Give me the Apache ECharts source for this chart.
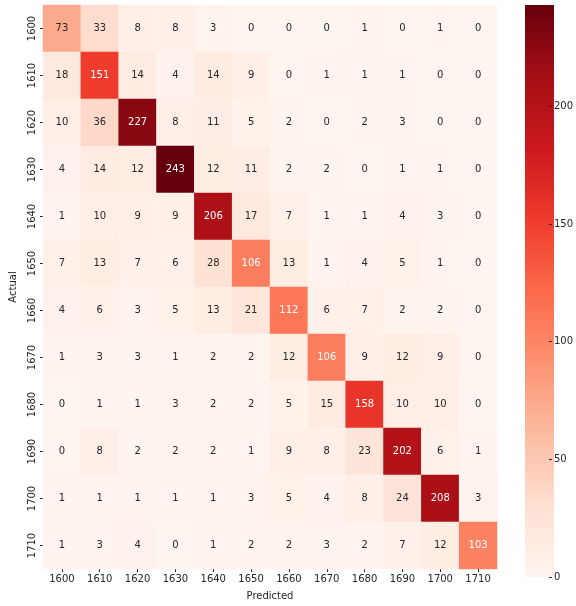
<!DOCTYPE html>
<html><head><meta charset="utf-8">
<script src="https://cdn.jsdelivr.net/npm/echarts@6/dist/echarts.min.js"></script>
<style>html,body{margin:0;padding:0;background:#fff}#c{width:576px;height:606px}</style>
</head><body><div id="c"></div>
<script>
const categories = ['1600','1610','1620','1630','1640','1650','1660','1670','1680','1690','1700','1710'];
const row1600 = [73,33,8,8,3,0,0,0,1,0,1,0];
const row1610 = [18,151,14,4,14,9,0,1,1,1,0,0];
const row1620 = [10,36,227,8,11,5,2,0,2,3,0,0];
const row1630 = [4,14,12,243,12,11,2,2,0,1,1,0];
const row1640 = [1,10,9,9,206,17,7,1,1,4,3,0];
const row1650 = [7,13,7,6,28,106,13,1,4,5,1,0];
const row1660 = [4,6,3,5,13,21,112,6,7,2,2,0];
const row1670 = [1,3,3,1,2,2,12,106,9,12,9,0];
const row1680 = [0,1,1,3,2,2,5,15,158,10,10,0];
const row1690 = [0,8,2,2,2,1,9,8,23,202,6,1];
const row1700 = [1,1,1,1,1,3,5,4,8,24,208,3];
const row1710 = [1,3,4,0,1,2,2,3,2,7,12,103];
const rows = [row1600,row1610,row1620,row1630,row1640,row1650,row1660,row1670,row1680,row1690,row1700,row1710];
const colorbarTicks = [0,50,100,150,200];
const vmin = 0, vmax = 243;
const reds = ['#fff5f0','#fee0d2','#fcbba1','#fc9272','#fb6a4a','#ef3b2c','#cb181d','#a50f15','#67000d'];

const data = [];
rows.forEach((r, yi) => r.forEach((v, xi) => {
  data.push({value:[xi, yi, v], label:{color: v > 90 ? '#ffffff' : '#262626'}});
}));

const font = 'DejaVu Sans';
const chart = echarts.init(document.getElementById('c'), null, {renderer:'canvas'});
chart.setOption({
  animation:false,
  textStyle:{fontFamily:font},
  grid:[
    {left:36, top:5, width:461, height:572},
    {left:525, top:5, width:29, height:572}
  ],
  xAxis:[
    {type:'category', gridIndex:0, data:categories, name:'Predicted', nameLocation:'middle', nameGap:22,
     nameTextStyle:{color:'#262626', fontSize:10, fontFamily:font},
     axisLine:{show:false}, axisTick:{show:true, alignWithLabel:true, length:3, lineStyle:{color:'#262626'}},
     axisLabel:{color:'#262626', fontSize:10, fontFamily:font, margin:5}, splitLine:{show:false}},
    {type:'value', gridIndex:1, show:false, min:0, max:1}
  ],
  yAxis:[
    {type:'category', gridIndex:0, data:categories, inverse:true, name:'Actual', nameLocation:'middle', nameGap:25,
     nameTextStyle:{color:'#262626', fontSize:10, fontFamily:font},
     axisLine:{show:false}, axisTick:{show:true, alignWithLabel:true, length:3, lineStyle:{color:'#262626'}},
     axisLabel:{color:'#262626', fontSize:10, fontFamily:font, rotate:90, margin:6}, splitLine:{show:false}},
    {type:'value', gridIndex:1, position:'right', min:vmin, max:vmax, interval:50,
     axisLine:{show:false, onZero:false}, axisTick:{show:true, length:3, lineStyle:{color:'#262626'}},
     axisLabel:{color:'#262626', fontSize:10, fontFamily:font, margin:5,
       formatter: v => colorbarTicks.includes(v) ? String(v) : ''},
     splitLine:{show:false}}
  ],
  visualMap:{
    type:'continuous', min:vmin, max:vmax, show:false, seriesIndex:0,
    inRange:{color:reds}
  },
  graphic:[{
    type:'rect', left:525, top:5, silent:true, z:-1,
    shape:{width:29, height:572},
    style:{fill:new echarts.graphic.LinearGradient(0,1,0,0,
      reds.map((c,i)=>({offset:i/(reds.length-1), color:c})))}
  }],
  series:[{
    type:'heatmap', xAxisIndex:0, yAxisIndex:0, data:data,
    itemStyle:{borderWidth:0},
    label:{show:true, fontSize:10, fontFamily:font, formatter: p => String(p.value[2])},
    emphasis:{disabled:true}
  }]
});
</script></body></html>
